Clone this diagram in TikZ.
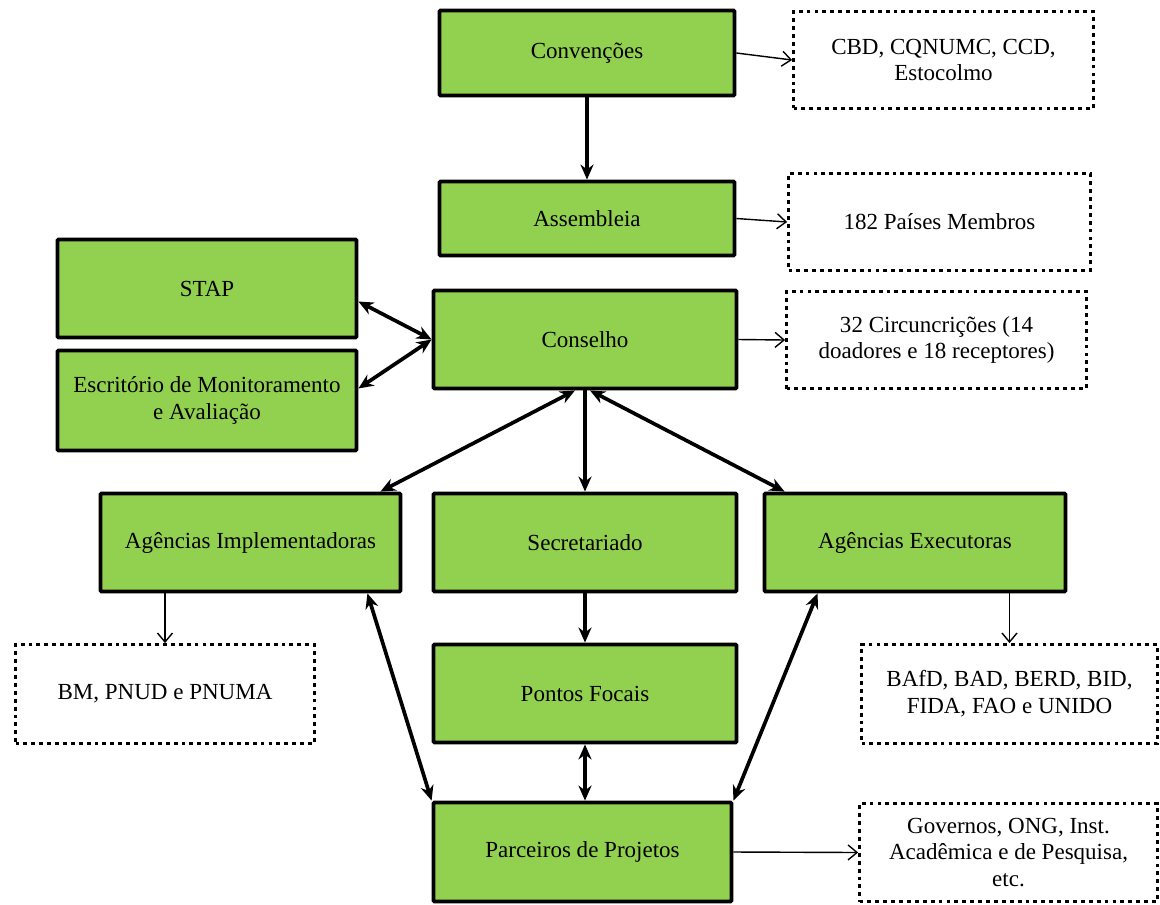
\documentclass[tikz,border=0pt]{standalone}
\usepackage{fontspec}
\setmainfont{Liberation Serif}
\usetikzlibrary{arrows.meta,calc}
\definecolor{gfill}{RGB}{146,208,80}
\begin{document}
\begin{tikzpicture}[x=0.02cm,y=-0.02cm,
  every node/.style={font=\fontsize{13.1}{15.3}\selectfont, align=center, inner sep=0pt},
  gbox/.style={draw=black, fill=gfill, line width=2.2pt, rounded corners=0.6pt},
  dbox/.style={draw=black, fill=white, line width=1.6pt, dash pattern=on 2.2pt off 2.3pt},
  thick arrow/.style={line width=2.1pt, -{Stealth[length=0.3cm,width=0.26cm]}},
  thick both/.style={line width=2.1pt, {Stealth[length=0.3cm,width=0.26cm]}-{Stealth[length=0.3cm,width=0.26cm]}},
  thin arrow/.style={line width=0.8pt, -{Straight Barb[length=0.18cm,width=0.3cm]}}
]
\useasboundingbox (0,0) rectangle (1160,904);

\node[gbox, minimum width=5.90cm, minimum height=1.70cm] (conv) at (587,53) {Convenções};
\node[dbox, minimum width=6.00cm, minimum height=1.94cm] (cbd) at (943.5,60) {CBD, CQNUMC, CCD,\\Estocolmo};
\node[gbox, minimum width=5.90cm, minimum height=1.48cm] (assem) at (587,218.5) {Assembleia};
\node[dbox, minimum width=6.04cm, minimum height=1.94cm] (paises) at (939.5,222) {182 Países Membros};
\node[gbox, minimum width=5.98cm, minimum height=1.96cm] (stap) at (207,288.5) {STAP};
\node[gbox, minimum width=5.98cm, minimum height=2.00cm] (escr) at (207,400.5) {Escritório de Monitoramento\\e Avaliação};
\node[gbox, minimum width=6.06cm, minimum height=1.96cm] (cons) at (585,339.5) {Conselho};
\node[dbox, minimum width=6.00cm, minimum height=1.94cm] (circ) at (936.5,340) {32 Circuncrições (14\\doadores e 18 receptores)};
\node[gbox, minimum width=6.00cm, minimum height=1.96cm] (agimp) at (250.5,542.5) {Agências Implementadoras};
\node[gbox, minimum width=6.06cm, minimum height=1.96cm] (secr) at (585,542.5) {Secretariado};
\node[gbox, minimum width=6.02cm, minimum height=1.96cm] (agex) at (915,542.5) {Agências Executoras};
\node[dbox, minimum width=5.98cm, minimum height=1.98cm] (bm) at (165,694) {BM, PNUD e PNUMA};
\node[gbox, minimum width=6.06cm, minimum height=1.96cm] (pontos) at (585,693.5) {Pontos Focais};
\node[dbox, minimum width=5.92cm, minimum height=1.98cm] (bafd) at (1009.5,694) {BAfD, BAD, BERD, BID,\\FIDA, FAO e UNIDO};
\node[gbox, minimum width=5.96cm, minimum height=1.98cm] (parc) at (582.5,852) {Parceiros de Projetos};
\node[dbox, minimum width=5.96cm, minimum height=1.96cm] (gov) at (1008.5,852.5) {Governos, ONG, Inst.\\Acadêmica e de Pesquisa,\\etc.};

% connectors
\draw[thin arrow] (conv.east) -- (cbd.west);
\draw[thick arrow] (conv.south) -- (assem.north);
\draw[thin arrow] (assem.east) -- (paises.west);
\draw[thick both] ([yshift=-0.26cm]stap.east) -- (cons.west);
\draw[thick both] ([yshift=0.24cm]escr.east) -- (cons.west);
\draw[thin arrow] (cons.east) -- (circ.west);
\draw[thick both] ([xshift=-0.2cm]cons.south) -- ([xshift=-0.44cm]agimp.north east);
\draw[thick arrow] (cons.south) -- (secr.north);
\draw[thick both] ([xshift=0.1cm]cons.south) -- ([xshift=0.44cm]agex.north west);
\draw[thin arrow] (bm.north |- agimp.south) -- (bm.north);
\draw[thin arrow] (bafd.north |- agex.south) -- (bafd.north);
\draw[thick arrow] (secr.south) -- (pontos.north);
\draw[thick both] (pontos.south) -- (pontos.south |- parc.north);
\draw[thick both] ([xshift=-0.7cm]agimp.south east) -- (parc.north west);
\draw[thick both] ([xshift=1.1cm]agex.south west) -- (parc.north east);
\draw[thin arrow] (parc.east) -- (gov.west);
\end{tikzpicture}
\end{document}
